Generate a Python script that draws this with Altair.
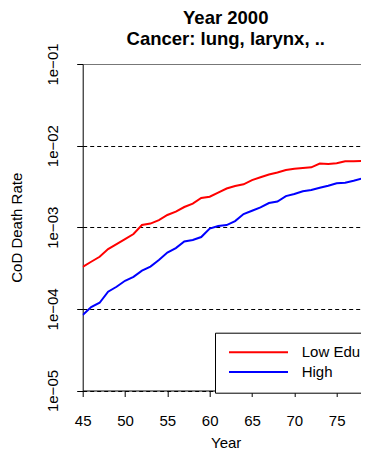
import altair as alt
import pandas as pd

# ---- data ----
years = list(range(45, 80))
low_edu = [3.28e-4, 3.78e-4, 4.35e-4, 5.41e-4, 6.22e-4, 7.16e-4, 8.26e-4, 1.064e-3,
           1.109e-3, 1.225e-3, 1.413e-3, 1.556e-3, 1.770e-3, 1.950e-3, 2.280e-3,
           2.366e-3, 2.661e-3, 2.979e-3, 3.199e-3, 3.357e-3, 3.784e-3, 4.093e-3,
           4.426e-3, 4.688e-3, 5.023e-3, 5.224e-3, 5.309e-3, 5.420e-3, 6.039e-3,
           5.957e-3, 6.067e-3, 6.442e-3, 6.427e-3, 6.471e-3, 6.531e-3]
high = [8.39e-5, 1.052e-4, 1.189e-4, 1.622e-4, 1.866e-4, 2.208e-4, 2.472e-4, 2.944e-4,
        3.296e-4, 3.963e-4, 4.898e-4, 5.559e-4, 6.683e-4, 6.966e-4, 7.586e-4,
        9.638e-4, 1.035e-3, 1.064e-3, 1.191e-3, 1.452e-3, 1.592e-3, 1.754e-3,
        1.982e-3, 2.065e-3, 2.410e-3, 2.553e-3, 2.754e-3, 2.858e-3, 3.041e-3,
        3.228e-3, 3.451e-3, 3.508e-3, 3.715e-3, 3.972e-3, 3.846e-3]
series_names = ["Low Edu", "High"]
series_colors = ["#FF0000", "#0000FF"]
x_ticks = [45, 50, 55, 60, 65, 70, 75]
y_ticks = [1e-5, 1e-4, 1e-3, 1e-2, 1e-1]
y_tick_labels = ["1e\u221205", "1e\u221204", "1e\u221203", "1e\u221202", "1e\u221201"]
title_lines = ["Year 2000", "Cancer: lung, larynx, .."]
x_title = "Year"
y_title = "CoD Death Rate"

df = pd.DataFrame({
    "Year": years + years,
    "rate": low_edu + high,
    "series": [series_names[0]] * len(years) + [series_names[1]] * len(years),
})

label_expr = "[" + ",".join("'%s'" % t for t in y_tick_labels) + "][round(log(datum.value)/LN10) + 5]"

PLOT_W = 278.3
PLOT_H = 326.5
X_MAX = 77.87

x_axis = alt.Axis(
    values=x_ticks, tickSize=6, tickColor="black", domainColor="black",
    labelFontSize=15, labelColor="black", labelPadding=28.5, labelBaseline="alphabetic",
    labelFlush=False, labelOverlap=False, grid=False,
    title=x_title, titleFontSize=15, titleFontWeight="normal", titleColor="black",
    titleX=143, titleY=56.5, titleBaseline="alphabetic", titleAlign="center",
)
y_axis = alt.Axis(
    values=y_ticks, labelExpr=label_expr, tickSize=6, tickColor="black", domainColor="black",
    labelFontSize=15, labelColor="black", labelAngle=270, labelAlign="center",
    labelBaseline="alphabetic", labelPadding=19.4, labelFlush=False, labelOverlap=False,
    grid=True, gridWidth=1,
    gridDash={"condition": {"test": "datum.value > 0.05", "value": []}, "value": [4, 3]},
    gridColor={"condition": {"test": "datum.value > 0.05", "value": "#777777"}, "value": "black"},
    title=y_title, titleFontSize=15, titleFontWeight="normal", titleColor="black",
    titleAngle=270, titleX=-61, titleY=PLOT_H / 2, titleBaseline="alphabetic", titleAlign="center",
)

legend = alt.Legend(
    orient="none", legendX=132.3, legendY=268.7, padding=12,
    strokeColor="black", fillColor="white", cornerRadius=0,
    symbolType="M-10,0H10", symbolSize=34.81, symbolStrokeWidth=2,
    symbolOffset=24, labelOffset=35.7, labelFontSize=15, labelColor="black",
    rowPadding=3.8,
)

chart = alt.Chart(df).mark_line(strokeWidth=2, clip=True).encode(
    x=alt.X("Year:Q", scale=alt.Scale(domain=[45, X_MAX], nice=False, zero=False), axis=x_axis),
    y=alt.Y("rate:Q", scale=alt.Scale(type="log", domain=[1e-5, 1e-1], nice=False), axis=y_axis),
    color=alt.Color("series:N", scale=alt.Scale(domain=series_names, range=series_colors),
                    sort=series_names, legend=legend, title=None),
).properties(
    width=PLOT_W,
    height=PLOT_H,
    title=alt.TitleParams(
        text=title_lines, fontSize=18.5, fontWeight="bold", font="Liberation Sans",
        color="black", anchor="middle", baseline="bottom", lineHeight=21, offset=-24.4,
        dx=3.9,
    ),
    autosize=alt.AutoSizeParams(type="none"),
    padding={"left": 74.7, "top": 56, "right": 0, "bottom": 60.5},
).configure(
    font="Liberation Sans",
).configure_view(
    stroke="transparent",
)

chart.save("out.html", embed_options={"renderer": "svg", "actions": False})
